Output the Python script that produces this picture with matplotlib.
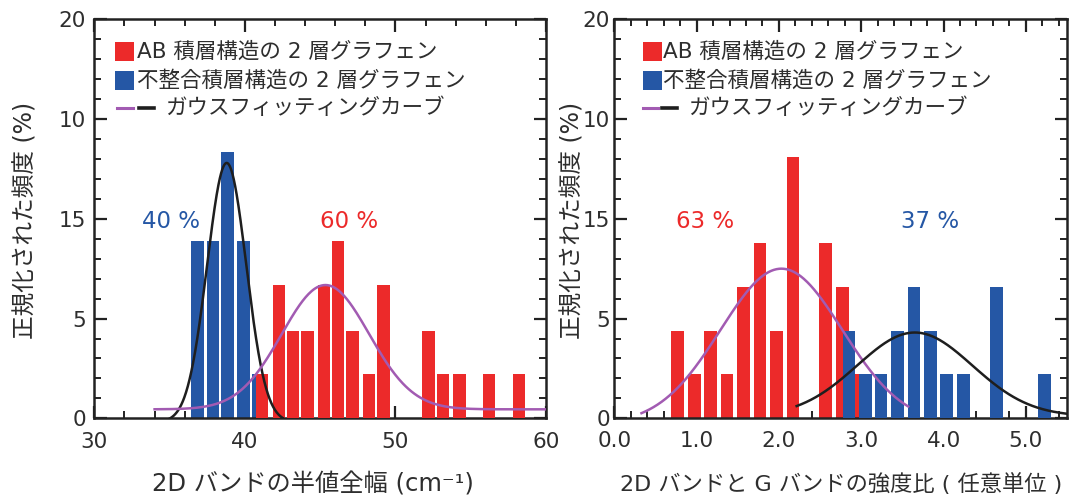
import numpy as np
import matplotlib
matplotlib.use("Agg")
import matplotlib.pyplot as plt
from matplotlib.patches import Rectangle
from matplotlib.lines import Line2D
from matplotlib.ticker import MultipleLocator, FixedLocator

plt.rcParams['font.family'] = ['DejaVu Sans', 'Noto Sans CJK JP']
plt.rcParams['axes.unicode_minus'] = False

# ---------------- data ----------------
# Left panel: 2D band FWHM (cm^-1)
fwhm_blue_x = [36.85, 37.9, 38.85, 39.9, 40.85]
fwhm_blue_y = [8.9, 8.9, 13.35, 8.9, 2.2]
fwhm_red_x = [41.15, 42.25, 43.2, 44.15, 45.25, 46.2, 47.15, 48.25, 49.2,
              52.2, 53.15, 54.25, 56.2, 58.2]
fwhm_red_y = [2.2, 6.7, 4.4, 4.4, 6.7, 8.9, 4.4, 2.2, 6.7,
              4.4, 2.2, 2.2, 2.2, 2.2]
# Gaussian fits (amplitude, center, sigma, offset, x-start, x-end)
fwhm_fit_blue = (13.0, 38.79, 1.3, -0.2, 34.8, 42.6)
fwhm_fit_red = (6.23, 45.35, 2.9, 0.45, 34.0, 60.0)

# Right panel: 2D/G intensity ratio
ratio_red_x = [0.77, 0.97, 1.17, 1.37, 1.57, 1.77, 1.97, 2.17, 2.57, 2.77, 2.98]
ratio_red_y = [4.4, 2.2, 4.4, 2.2, 6.6, 8.8, 4.4, 13.1, 8.8, 6.6, 2.2]
ratio_blue_x = [2.85, 3.05, 3.24, 3.44, 3.64, 3.84, 4.04, 4.24, 4.64, 5.23]
ratio_blue_y = [4.4, 2.2, 2.2, 4.4, 6.6, 4.4, 2.2, 2.2, 6.6, 2.2]
ratio_fit_red = (7.8, 2.03, 0.74, -0.3, 0.33, 3.57)
ratio_fit_blue = (4.2, 3.65, 0.70, 0.1, 2.215, 5.5)

ytick_vals = [0, 5, 10, 15, 20]
ytick_labels = ['0', '5', '15', '10', '20']
left_xticks = [30, 40, 50, 60]
right_xticks = [0.0, 1.0, 2.0, 3.0, 4.0, 5.0]

legend_labels = ['AB 積層構造の 2 層グラフェン',
                 '不整合積層構造の 2 層グラフェン',
                 'ガウスフィッティングカーブ']
left_pct = ('40 %', '60 %')
right_pct = ('63 %', '37 %')
ylabel = '正規化された頻度 (%)'
left_xlabel = '2D バンドの半値全幅 (cm⁻¹)'
right_xlabel = '2D バンドと G バンドの強度比 ( 任意単位 )'

RED = '#EC2A2A'
BLUE = '#2557A5'
PURPLE = '#A25BB2'
BLACK = '#1E1E1E'
TXT = '#2E2E2E'


def gauss(params):
    a, c, s, b, x0, x1 = params
    x = np.linspace(x0, x1, 400)
    return x, b + a * np.exp(-(x - c) ** 2 / (2 * s ** 2))


fig = plt.figure(figsize=(10.71, 5.0), dpi=100)
axL = fig.add_axes([0.0881, 0.1634, 0.4217, 0.798])
axR = fig.add_axes([0.5736, 0.1634, 0.4227, 0.798])


def style_axis(ax, xlim, minor, ypad):
    ax.set_ylim(0, 20)
    ax.set_xlim(*xlim)
    ax.yaxis.set_major_locator(FixedLocator(ytick_vals))
    ax.set_yticklabels(ytick_labels)
    ax.yaxis.set_minor_locator(MultipleLocator(1))
    ax.xaxis.set_minor_locator(MultipleLocator(minor))
    for s in ax.spines.values():
        s.set_linewidth(1.8)
        s.set_color('#222222')
    ax.tick_params(which='both', direction='in', top=True, right=True,
                   color='#222222', labelcolor=TXT, labelsize=15.5)
    ax.tick_params(which='major', length=9, width=1.6)
    ax.tick_params(which='minor', length=5, width=1.4)
    ax.tick_params(axis='y', which='major', pad=ypad)


def legend(ax, sq_x0, sq_w, txt_x, line_xs, txt3_x):
    rows = [0.919, 0.8466, 0.778]
    h = 0.047
    for col, y, lab in [(RED, rows[0], legend_labels[0]),
                        (BLUE, rows[1], legend_labels[1])]:
        ax.add_patch(Rectangle((sq_x0, y - h / 2), sq_w, h, color=col,
                               transform=ax.transAxes, clip_on=False, lw=0))
        ax.text(txt_x, y, lab, transform=ax.transAxes, fontsize=15.5,
                va='center', ha='left', color=TXT)
    (p0, p1), (k0, k1) = line_xs
    ax.add_line(Line2D([p0, p1], [rows[2]] * 2, color=PURPLE, lw=2.2,
                       transform=ax.transAxes))
    ax.add_line(Line2D([k0, k1], [rows[2]] * 2, color=BLACK, lw=2.6,
                       transform=ax.transAxes))
    ax.text(txt3_x, rows[2], legend_labels[2], transform=ax.transAxes,
            fontsize=15.5, va='center', ha='left', color=TXT)


def labels(ax, ylx, xlx):
    ax.set_ylabel(ylabel, fontsize=17, color=TXT, va='center')
    ax.yaxis.set_label_coords(ylx, 0.497)
    ax.xaxis.label.set_va('center')
    ax.xaxis.set_label_coords(xlx, -0.165)


# ---------- left panel ----------
style_axis(axL, (30, 60), 2, 6)
axL.xaxis.set_major_locator(FixedLocator(left_xticks))
axL.set_xticklabels([str(v) for v in left_xticks])
axL.tick_params(axis='x', which='major', pad=10)
axL.bar(fwhm_blue_x, fwhm_blue_y, width=0.82, color=BLUE, zorder=2)
axL.bar(fwhm_red_x, fwhm_red_y, width=0.82, color=RED, zorder=3)
x, y = gauss(fwhm_fit_blue)
axL.plot(x, y, color=BLACK, lw=1.8, zorder=4)
x, y = gauss(fwhm_fit_red)
axL.plot(x, y, color=PURPLE, lw=1.8, zorder=4)
axL.text(35.06, 9.84, left_pct[0], color=BLUE, fontsize=16.5, ha='center', va='center')
axL.text(46.93, 9.84, left_pct[1], color=RED, fontsize=16.5, ha='center', va='center')
legend(axL, 0.0465, 0.042, 0.0945, ((0.050, 0.0857), (0.099, 0.132)), 0.157)
axL.set_xlabel(left_xlabel, fontsize=17.5, color=TXT)
labels(axL, -0.153, 0.484)

# ---------- right panel ----------
style_axis(axR, (0, 5.5), 0.2, 3)
axR.xaxis.set_major_locator(FixedLocator(right_xticks))
axR.set_xticklabels([f'{v:.1f}' for v in right_xticks])
axR.tick_params(axis='x', which='major', pad=9)
axR.bar(ratio_red_x, ratio_red_y, width=0.155, color=RED, zorder=2)
axR.bar(ratio_blue_x, ratio_blue_y, width=0.155, color=BLUE, zorder=3)
x, y = gauss(ratio_fit_red)
axR.plot(x, y, color=PURPLE, lw=1.8, zorder=4)
x, y = gauss(ratio_fit_blue)
axR.plot(x, y, color=BLACK, lw=1.8, zorder=4)
axR.text(1.10, 9.84, right_pct[0], color=RED, fontsize=16.5, ha='center', va='center')
axR.text(3.83, 9.84, right_pct[1], color=BLUE, fontsize=16.5, ha='center', va='center')
legend(axR, 0.0627, 0.042, 0.108, ((0.0627, 0.097), (0.1047, 0.138)), 0.1635)
axR.set_xlabel(right_xlabel, fontsize=16, color=TXT)
labels(axR, -0.093, 0.502)

fig.savefig('out.png', dpi=100)
